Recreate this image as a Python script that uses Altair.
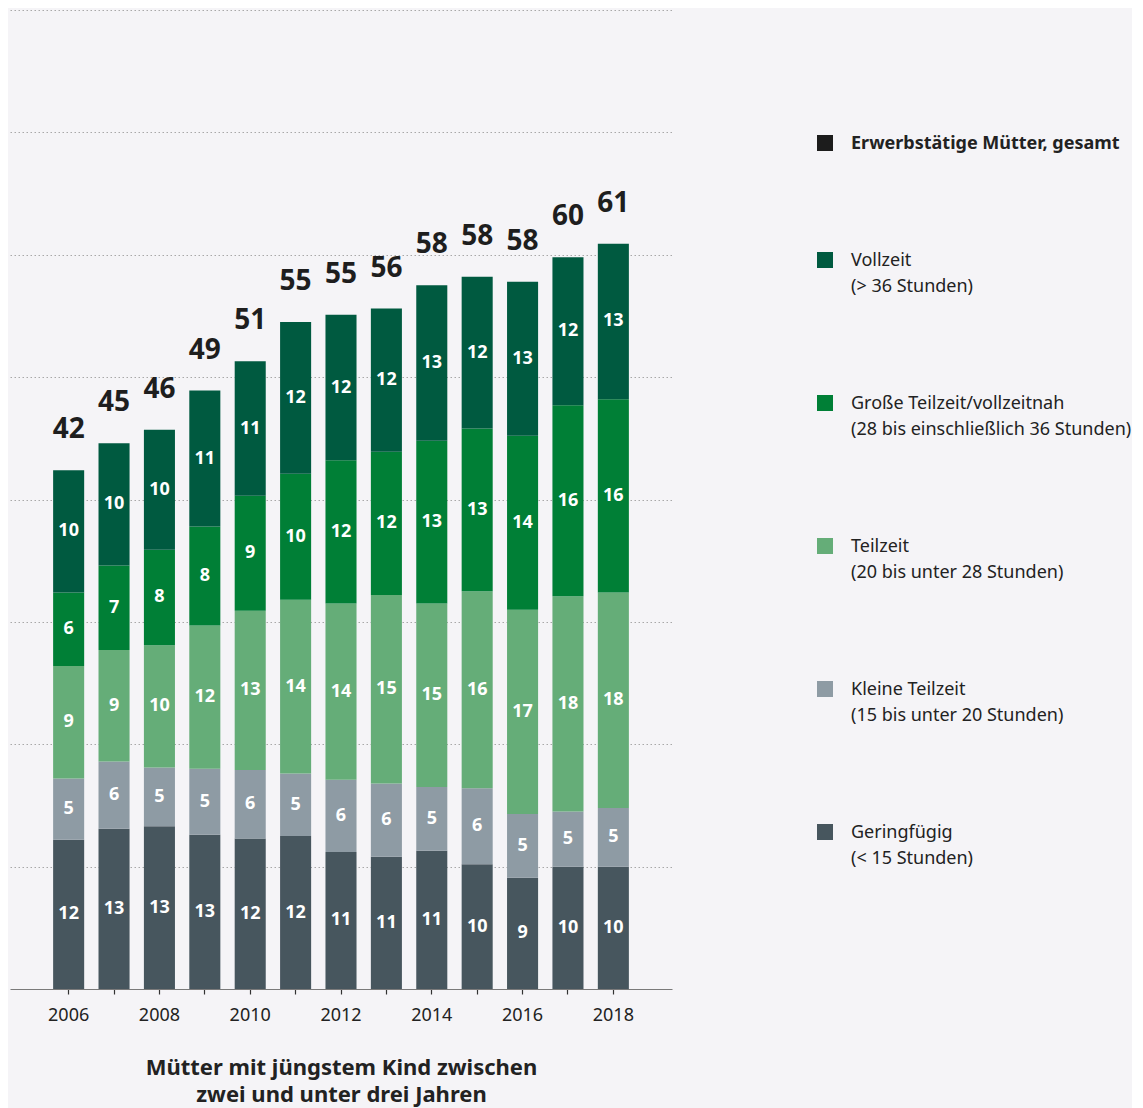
import altair as alt
import pandas as pd

years = [2006, 2007, 2008, 2009, 2010, 2011, 2012, 2013, 2014, 2015, 2016, 2017, 2018]

total_key = "Erwerbstätige Mütter, gesamt"
cat_voll = "Vollzeit|(> 36 Stunden)"
cat_gross = "Große Teilzeit/vollzeitnah|(28 bis einschließlich 36 Stunden)"
cat_teil = "Teilzeit|(20 bis unter 28 Stunden)"
cat_klein = "Kleine Teilzeit|(15 bis unter 20 Stunden)"
cat_gering = "Geringfügig|(< 15 Stunden)"

# estimated segment heights (percent)
geringfuegig = [12.2, 13.1, 13.3, 12.6, 12.3, 12.5, 11.2, 10.8, 11.3, 10.2, 9.1, 10.0, 10.0]
kleine = [5.0, 5.5, 4.8, 5.4, 5.6, 5.1, 5.9, 6.0, 5.2, 6.2, 5.2, 4.5, 4.8]
teilzeit = [9.2, 9.1, 10.0, 11.7, 13.0, 14.2, 14.4, 15.4, 15.0, 16.1, 16.7, 17.6, 17.6]
grosse = [6.0, 6.9, 7.8, 8.1, 9.4, 10.3, 11.7, 11.7, 13.3, 13.3, 14.2, 15.6, 15.8]
vollzeit = [10.0, 10.0, 9.8, 11.1, 11.0, 12.4, 11.9, 11.7, 12.7, 12.4, 12.6, 12.1, 12.7]

# printed labels
geringfuegig_lbl = [12, 13, 13, 13, 12, 12, 11, 11, 11, 10, 9, 10, 10]
kleine_lbl = [5, 6, 5, 5, 6, 5, 6, 6, 5, 6, 5, 5, 5]
teilzeit_lbl = [9, 9, 10, 12, 13, 14, 14, 15, 15, 16, 17, 18, 18]
grosse_lbl = [6, 7, 8, 8, 9, 10, 12, 12, 13, 13, 14, 16, 16]
vollzeit_lbl = [10, 10, 10, 11, 11, 12, 12, 12, 13, 12, 13, 12, 13]
totals = [42, 45, 46, 49, 51, 55, 55, 56, 58, 58, 58, 60, 61]

series = [
    (cat_gering, geringfuegig, geringfuegig_lbl),
    (cat_klein, kleine, kleine_lbl),
    (cat_teil, teilzeit, teilzeit_lbl),
    (cat_gross, grosse, grosse_lbl),
    (cat_voll, vollzeit, vollzeit_lbl),
]

rows = []
for i, yr in enumerate(years):
    for k, (cat, vals, lbls) in enumerate(series):
        rows.append({"year": yr, "cat": cat, "order": k, "value": vals[i], "label": str(lbls[i])})
df = pd.DataFrame(rows)

tot_rows = []
for i, yr in enumerate(years):
    top = sum(s[1][i] for s in series)
    tot_rows.append({"year": yr, "top": top, "total": str(totals[i])})
df_tot = pd.DataFrame(tot_rows)

color_domain = [total_key, cat_voll, cat_gross, cat_teil, cat_klein, cat_gering]
color_range = ["#1c1c1c", "#005a40", "#007f36", "#65ad78", "#8e9ba4", "#47565e"]

FONT = "Noto Sans"

x_enc = alt.X(
    "year:O",
    scale=alt.Scale(paddingInner=0.316, paddingOuter=0.95),
    axis=alt.Axis(
        labelExpr="datum.value % 2 == 0 ? datum.label : ''",
        labelAngle=0,
        labelFontSize=18,
        labelColor="#222222",
        labelFont=FONT,
        labelPadding=12,
        domainColor="#7a7a7a",
        domainWidth=1.2,
        tickColor="#333333",
        tickSize=5,
        tickWidth=1.2,
        grid=False,
        title=["Mütter mit jüngstem Kind zwischen", "zwei und unter drei Jahren"],
        titleFontSize=22,
        titleFontWeight="bold",
        titleFont=FONT,
        titleColor="#222222",
        titlePadding=33,
        titleLineHeight=27,
    ),
)

y_scale = alt.Scale(domain=[0, 80], nice=False)

base = alt.Chart(df).transform_stack(
    stack="value",
    groupby=["year"],
    sort=[alt.SortField("order", order="ascending")],
    as_=["v0", "v1"],
).transform_calculate(mid="(datum.v0 + datum.v1) / 2")

bars = base.mark_bar().encode(
    x=x_enc,
    y=alt.Y(
        "v0:Q",
        scale=y_scale,
        axis=alt.Axis(
            values=[10, 20, 30, 40, 50, 60, 70, 80],
            labels=False,
            ticks=False,
            domain=False,
            grid=True,
            gridDash=[1.5, 2.5],
            gridColor="#a8a8a8",
            gridWidth=1,
            title=None,
        ),
    ),
    y2="v1:Q",
    color=alt.Color(
        "cat:N",
        scale=alt.Scale(domain=color_domain, range=color_range),
        legend=alt.Legend(
            orient="none",
            legendX=806,
            legendY=130,
            title=None,
            direction="vertical",
            symbolType="M-1,-1.75H1V0.25H-1Z",
            symbolSize=256,
            symbolStrokeWidth=0,
            symbolOpacity=1,
            labelFontSize=18,
            labelFont=FONT,
            labelColor="#222222",
            labelLimit=400,
            labelOffset=17,
            labelBaseline="alphabetic",
            labelExpr="split(datum.label, '|')",
            labelFontWeight={"expr": "datum.value == 'Erwerbstätige Mütter, gesamt' ? 'bold' : 'normal'"},
            rowPadding=99,
            padding=0,
        ),
    ),
)

seg_text = base.mark_text(
    color="white", fontSize=18, fontWeight="bold", font=FONT, baseline="middle"
).encode(
    x=alt.X("year:O"),
    y=alt.Y("mid:Q", scale=y_scale),
    text="label:N",
)

tot_text = alt.Chart(df_tot).mark_text(
    color="#1e1e1e", fontSize=28, fontWeight="bold", font=FONT, baseline="alphabetic", dy=-32
).encode(
    x=alt.X("year:O"),
    y=alt.Y("top:Q", scale=y_scale),
    text="total:N",
)

chart = alt.layer(bars, seg_text, tot_text).properties(
    width=662,
    height=979,
    padding={"left": 2, "top": 2, "right": 0, "bottom": 6},
    background="#f5f4f7",
).configure(
    style={"guide-label": {"lineHeight": 26}},
    view=alt.ViewConfig(stroke=None),
)

chart.save("out.html", embed_options={"renderer": "svg", "actions": False})
